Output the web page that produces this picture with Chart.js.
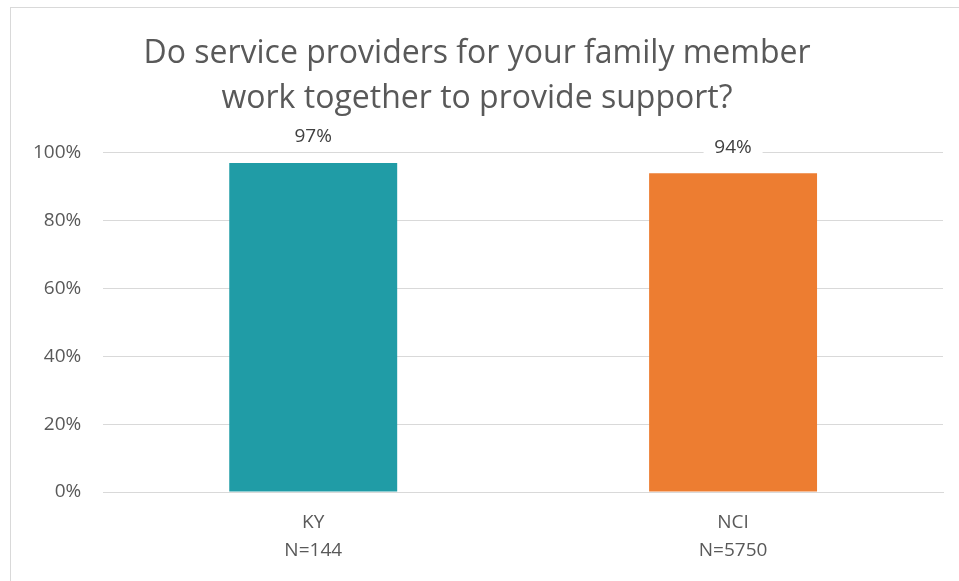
<!DOCTYPE html>
<html><head><meta charset="utf-8">
<script src="https://cdn.jsdelivr.net/npm/chart.js@4/dist/chart.umd.min.js"></script>
<style>
html,body{margin:0;padding:0;background:#fff;}
#wrap{position:absolute;left:0;top:0;width:959px;height:581px;}
#frame{position:absolute;left:10px;top:7px;width:950px;height:590px;border:1px solid #d9d9d9;box-sizing:border-box;pointer-events:none;}
</style></head>
<body>
<div id="wrap"><canvas id="c" width="959" height="581"></canvas></div>
<div id="frame"></div>
<script>
const categories = [["KY","N=144"],["NCI","N=5750"]];
const values = [97, 94];
const barColors = ["#209CA6", "#ED7D31"];
const yTicks = [0, 20, 40, 60, 80, 100];
const titleLines = ["Do service providers for your family member", "work together to provide support?"];

const FONT = "'Open Sans', 'Liberation Sans', sans-serif";

const labelPlugin = {
  id: 'valueLabels',
  afterDatasetsDraw(chart) {
    const ctx = chart.ctx;
    const meta = chart.getDatasetMeta(0);
    ctx.save();
    ctx.font = "19px " + FONT;
    ctx.textAlign = 'center';
    ctx.textBaseline = 'middle';
    meta.data.forEach((bar, i) => {
      const txt = values[i] + '%';
      const y = bar.y - 26;
      const w = 59;
      ctx.fillStyle = '#fff';
      ctx.fillRect(bar.x - w / 2, y - 13, w, 26);
      ctx.fillStyle = '#404040';
      ctx.fillText(txt, bar.x, y);
    });
    ctx.restore();
  }
};

new Chart(document.getElementById('c'), {
  type: 'bar',
  data: {
    labels: categories,
    datasets: [{ data: values, backgroundColor: barColors, barPercentage: 0.4, categoryPercentage: 1.0 }]
  },
  options: {
    responsive: false,
    animation: false,
    layout: { padding: { left: 11, right: 16, top: 23, bottom: 0 } },
    plugins: {
      legend: { display: false },
      tooltip: { enabled: false },
      title: {
        display: true,
        text: titleLines,
        color: '#595959',
        font: { family: FONT, size: 32, weight: 'normal', lineHeight: 1.42 },
        padding: { top: 8, bottom: 31 }
      }
    },
    scales: {
      y: {
        min: 0, max: 100,
        afterBuildTicks(scale) { scale.ticks = yTicks.map(v => ({ value: v })); },
        ticks: {
          callback: v => v + '%',
          color: '#595959',
          font: { family: FONT, size: 19 },
          padding: 22
        },
        grid: { color: '#d9d9d9', lineWidth: 1, drawTicks: false },
        border: { display: false }
      },
      x: {
        ticks: {
          color: '#595959',
          font: { family: FONT, size: 19, lineHeight: 1.5 },
          padding: 16
        },
        grid: { display: false, drawTicks: false },
        border: { color: '#d9d9d9', width: 1 }
      }
    }
  },
  plugins: [labelPlugin]
});
</script>
</body></html>
